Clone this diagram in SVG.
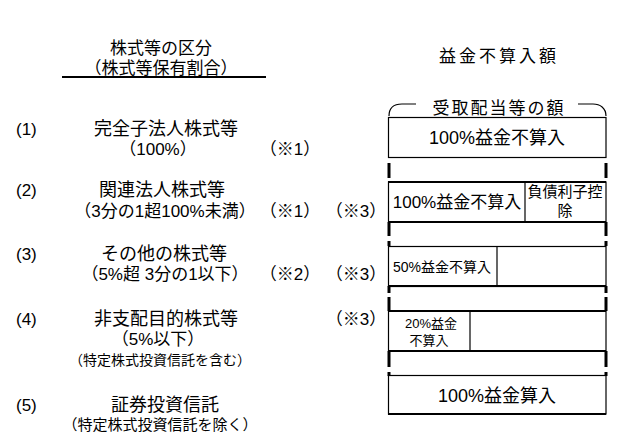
<svg xmlns="http://www.w3.org/2000/svg" width="625" height="441" viewBox="0 0 625 441">
<style>
text{font-family:"Liberation Sans","Noto Sans CJK JP",sans-serif;fill:#000;}
.m{text-anchor:middle;}
.f18{font-size:18px;}
.f17{font-size:17px;}
.f15{font-size:15px;}
.f14{font-size:14px;}
.f13{font-size:13px;}
.box{fill:#fff;stroke:#000;stroke-width:1.2;}
.thick{stroke:#000;stroke-width:2;fill:none;}
.bar{stroke:#000;stroke-width:3;fill:none;}
.ln{stroke:#000;stroke-width:1.2;fill:none;}
</style>
<rect width="625" height="441" fill="#fff"/>
<g id="header">
<text class="m f17" x="161" y="54">株式等の区分</text>
<text class="m f17" x="161" y="74">（株式等保有割合）</text>
<line class="thick" x1="62" y1="77" x2="266" y2="77"/>
<text class="m f17" x="499" y="62" letter-spacing="3">益金不算入額</text>
</g>
<g id="brace">
<path class="ln" d="M389,116 C389,108 394,104 402,104 L416,104"/>
<path class="ln" d="M578,104 L593,104 C600,104 606,108 606,116"/>
<text class="m f17" x="499" y="114" letter-spacing="2">受取配当等の額</text>
</g>
<g id="row1">
<text class="f17" x="16" y="135">(1)</text>
<text class="m f18" x="166" y="135">完全子法人株式等</text>
<text class="m f17" x="158" y="155">（100%）</text>
<text class="m f17" x="290" y="155">（※1）</text>
</g>
<g id="row2">
<text class="f17" x="16" y="196">(2)</text>
<text class="m f18" x="162" y="196">関連法人株式等</text>
<text class="m f17" x="165" y="217">（3分の1超100%未満）</text>
<text class="m f17" x="290" y="217">（※1）</text>
<text class="m f17" x="356" y="217">（※3）</text>
</g>
<g id="row3">
<text class="f17" x="16" y="260">(3)</text>
<text class="m f18" x="164" y="260">その他の株式等</text>
<text class="m f17" x="165" y="280">（5%超 3分の1以下）</text>
<text class="m f17" x="290" y="280">（※2）</text>
<text class="m f17" x="356" y="280">（※3）</text>
</g>
<g id="row4">
<text class="f17" x="16" y="325">(4)</text>
<text class="m f18" x="166" y="325">非支配目的株式等</text>
<text class="m f17" x="158" y="345">（5%以下）</text>
<text class="m f14" x="160" y="365">（特定株式投資信託を含む）</text>
<text class="m f17" x="356" y="325">（※3）</text>
</g>
<g id="row5">
<text class="f17" x="16" y="411">(5)</text>
<text class="m f18" x="165" y="411">証券投資信託</text>
<text class="m f15" x="160" y="430">（特定株式投資信託を除く）</text>
</g>
<g id="box1">
<rect class="box" x="388.5" y="117.5" width="217.5" height="40"/>
<text class="m f18" x="497" y="144">100%益金不算入</text>
</g>
<g id="box2">
<rect class="box" x="388.5" y="182" width="217.5" height="40"/>
<line class="thick" x1="388" y1="182" x2="606" y2="182"/>
<line class="thick" x1="388" y1="222" x2="606" y2="222"/>
<line class="ln" x1="525" y1="182" x2="525" y2="222"/>
<text class="m f17" x="457" y="208">100%益金不算入</text>
<text class="m f15" x="565" y="197">負債利子控</text>
<text class="m f15" x="565" y="216">除</text>
</g>
<g id="box3">
<rect class="box" x="388.5" y="246.5" width="217.5" height="40"/>
<line class="thick" x1="388" y1="286" x2="606" y2="286"/>
<line class="ln" x1="497" y1="246" x2="497" y2="286"/>
<text class="m f14" x="442" y="272">50%益金不算入</text>
</g>
<g id="box4">
<rect class="box" x="388.5" y="311" width="217.5" height="40"/>
<line class="thick" x1="388" y1="311" x2="606" y2="311"/>
<line class="thick" x1="388" y1="351" x2="606" y2="351"/>
<line class="ln" x1="470" y1="311" x2="470" y2="351"/>
<text class="m f13" x="431" y="328">20%益金</text>
<text class="m f13" x="429" y="345">不算入</text>
</g>
<g id="box5">
<rect class="box" x="388.5" y="375.5" width="217.5" height="38.5"/>
<line class="thick" x1="388" y1="414" x2="606" y2="414"/>
<text class="m f18" x="497" y="402">100%益金算入</text>
</g>
<g id="connectors">
<line class="bar" x1="389" y1="163" x2="389" y2="178"/>
<line class="bar" x1="606" y1="163" x2="606" y2="178"/>
<line class="bar" x1="389" y1="222" x2="389" y2="236"/>
<line class="bar" x1="606" y1="222" x2="606" y2="236"/>
<line class="bar" x1="389" y1="241" x2="389" y2="246"/>
<line class="bar" x1="606" y1="241" x2="606" y2="246"/>
<line class="bar" x1="389" y1="286" x2="389" y2="293"/>
<line class="bar" x1="606" y1="286" x2="606" y2="293"/>
<line class="bar" x1="389" y1="297" x2="389" y2="311"/>
<line class="bar" x1="606" y1="297" x2="606" y2="311"/>
<line class="bar" x1="389" y1="351" x2="389" y2="367"/>
<line class="bar" x1="606" y1="351" x2="606" y2="367"/>
<line class="bar" x1="389" y1="372" x2="389" y2="376"/>
<line class="bar" x1="606" y1="372" x2="606" y2="376"/>
</g>
</svg>
